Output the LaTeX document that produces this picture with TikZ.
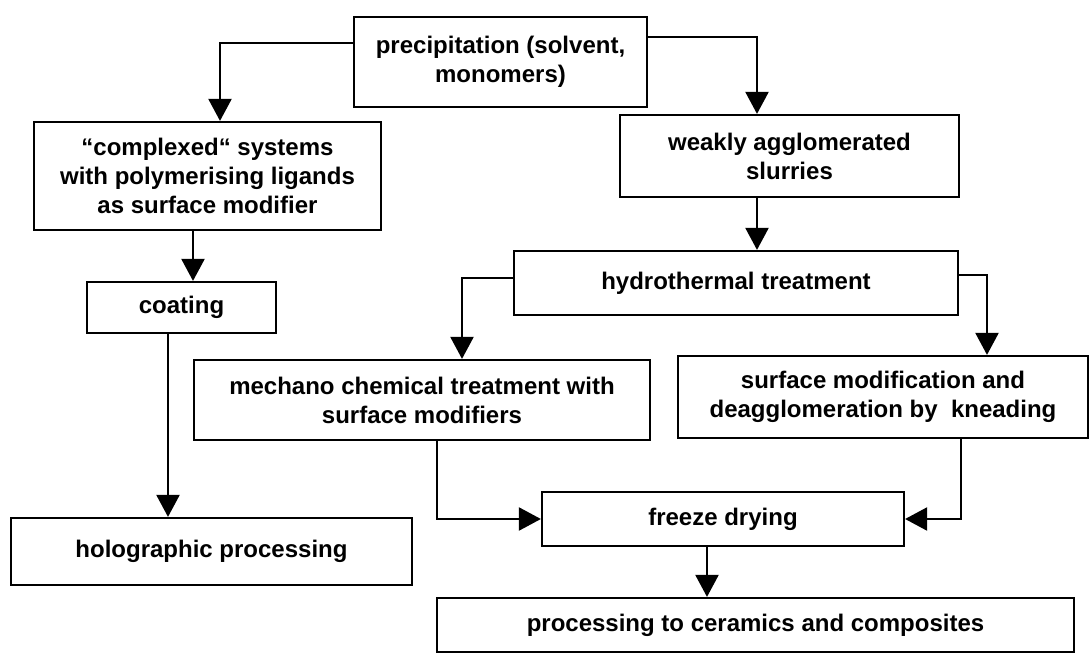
\documentclass[tikz,border=0pt]{standalone}
\usepackage{fontspec}
\setmainfont{Liberation Sans}
\usetikzlibrary{arrows.meta}

\begin{document}
\begin{tikzpicture}[x=1pt, y=-1pt,
    box/.style={draw, line width=2.2pt, align=center, inner sep=0pt,
      font=\bfseries\fontsize{24}{29}\selectfont},
    arr/.style={line width=2.2pt, -{Triangle[length=22pt, width=23pt]}}]
    \useasboundingbox (0,0) rectangle (1090,656);
    % boxes
    \node[box, minimum width=293pt, minimum height=90pt]  (prec)   at (500.5,62)   {precipitation (solvent,\\monomers)};
    \node[box, minimum width=347pt, minimum height=108pt] (comp)   at (207.5,176)  {“complexed“ systems\\with polymerising ligands\\as surface modifier};
    \node[box, minimum width=339pt, minimum height=82pt]  (weak)   at (789.5,156)  {weakly agglomerated\\slurries};
    \node[box, minimum width=444pt, minimum height=64pt]  (hydro)  at (736,283)    {hydrothermal treatment};
    \node[box, minimum width=189pt, minimum height=51pt]  (coat)   at (181.5,307.5) {coating};
    \node[box, minimum width=456pt, minimum height=80pt]  (mech)   at (422,400)    {mechano chemical treatment with\\surface modifiers};
    \node[box, minimum width=410pt, minimum height=82pt]  (surf)   at (883,397)    {surface modification and\\deagglomeration by\ \ kneading};
    \node[box, minimum width=401pt, minimum height=67pt]  (holo)   at (211.5,551.5) {holographic processing};
    \node[box, minimum width=362pt, minimum height=54pt]  (freeze) at (723,519)    {freeze drying};
    \node[box, minimum width=637pt, minimum height=54pt]  (proc)   at (755.5,625)  {processing to ceramics and composites};
    % connectors
    \draw[arr] ([yshift=19pt]prec.west) -| ([xshift=12.5pt]comp.north);
    \draw[arr] ([yshift=25pt]prec.east) -| ([xshift=-32.5pt]weak.north);
    \draw[arr] ([xshift=-32.5pt]weak.south) -- ([xshift=21pt]hydro.north);
    \draw[arr] ([yshift=5pt]hydro.west) -| ([xshift=40pt]mech.north);
    \draw[arr] ([yshift=8pt]hydro.east) -| ([xshift=104pt]surf.north);
    \draw[arr] ([xshift=-14.5pt]comp.south) -- ([xshift=11.5pt]coat.north);
    \draw[arr] ([xshift=-13.5pt]coat.south) -- ([xshift=-43.5pt]holo.north);
    \draw[arr] ([xshift=15pt]mech.south) |- (freeze.west);
    \draw[arr] ([xshift=78pt]surf.south) |- (freeze.east);
    \draw[arr] ([xshift=-16pt]freeze.south) -- ([xshift=-48.5pt]proc.north);
\end{tikzpicture}
\end{document}
